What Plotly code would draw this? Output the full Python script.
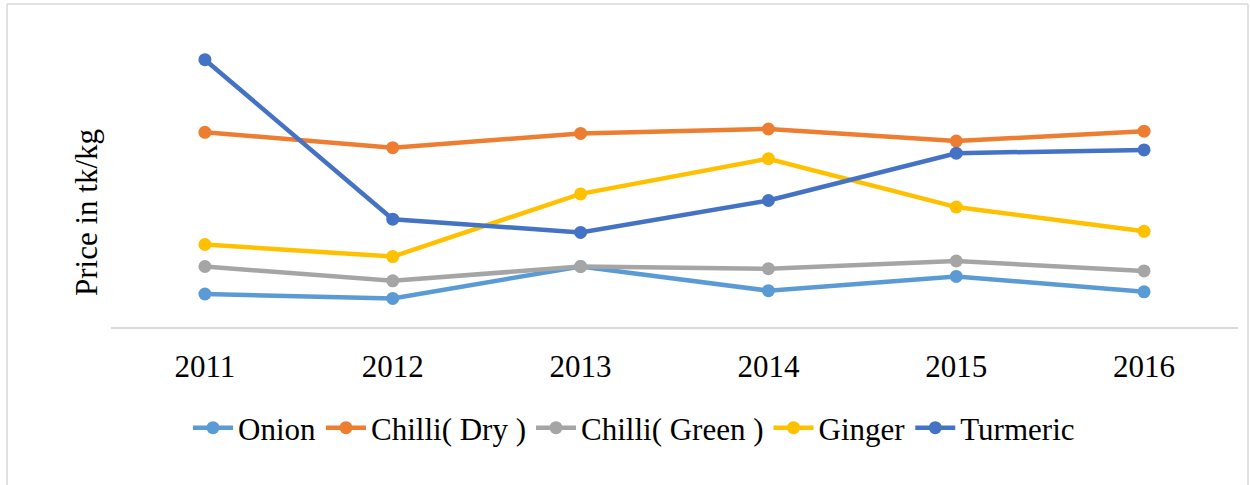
import plotly.graph_objects as go

# Yearly prices (tk/kg)
years = ["2011", "2012", "2013", "2014", "2015", "2016"]
onion = [30, 26, 55, 33, 46, 32]
chilli_dry = [177, 163, 176, 180, 169, 178]
chilli_green = [55, 42, 55, 53, 60, 51]
ginger = [75, 64, 121, 153, 109, 87]
turmeric = [243, 98, 86, 115, 158, 161]

series = [
    ("Onion", onion, "#5B9BD5"),
    ("Chilli( Dry )", chilli_dry, "#ED7D31"),
    ("Chilli( Green )", chilli_green, "#A5A5A5"),
    ("Ginger", ginger, "#FFC000"),
    ("Turmeric", turmeric, "#4472C4"),
]

FONT = "Liberation Serif"

fig = go.Figure()
for name, vals, color in series:
    fig.add_trace(go.Scatter(
        x=years, y=vals, name=name, mode="lines+markers",
        line=dict(color=color, width=4.5),
        marker=dict(color=color, size=13),
    ))

W, H = 1250, 485
L, R, T, B = 111, 12, 19, 158
pw, ph = W - L - R, H - T - B


def px_x(p):
    return (p - L) / pw


def px_y(p):
    return (H - B - p) / ph


border = dict(color="#D9D9D9", width=1.5)
shapes = [
    dict(type="line", xref="paper", yref="paper", x0=px_x(7), x1=px_x(7),
         y0=px_y(4), y1=px_y(H + 5), line=border),
    dict(type="line", xref="paper", yref="paper", x0=px_x(7), x1=px_x(1248),
         y0=px_y(4), y1=px_y(4), line=border),
    dict(type="line", xref="paper", yref="paper", x0=px_x(1248), x1=px_x(1248),
         y0=px_y(4), y1=px_y(H + 5), line=border),
]

fig.update_layout(
    width=W, height=H,
    margin=dict(l=L, r=R, t=T, b=B),
    paper_bgcolor="white", plot_bgcolor="white",
    font=dict(family=FONT, size=31, color="black"),
    showlegend=True,
    legend=dict(orientation="h", x=px_x(634), xanchor="center",
                y=px_y(428), yanchor="middle",
                font=dict(family=FONT, size=31), itemwidth=40,
                tracegroupgap=0),
    xaxis=dict(type="category", range=[-0.5, 5.5], showgrid=False,
               showline=True, linecolor="#D9D9D9", linewidth=1.5,
               ticks="", tickfont=dict(family=FONT, size=31),
               ticklabelstandoff=11, zeroline=False),
    yaxis=dict(range=[0, 280], showgrid=False, showticklabels=False,
               showline=False, zeroline=False, ticks=""),
    shapes=shapes,
    annotations=[dict(text="Price in tk/kg", xref="paper", yref="paper",
                      x=px_x(86), y=px_y(213), textangle=-90,
                      showarrow=False, xanchor="center", yanchor="middle",
                      font=dict(family=FONT, size=31))],
)

fig.write_html("out.html")
